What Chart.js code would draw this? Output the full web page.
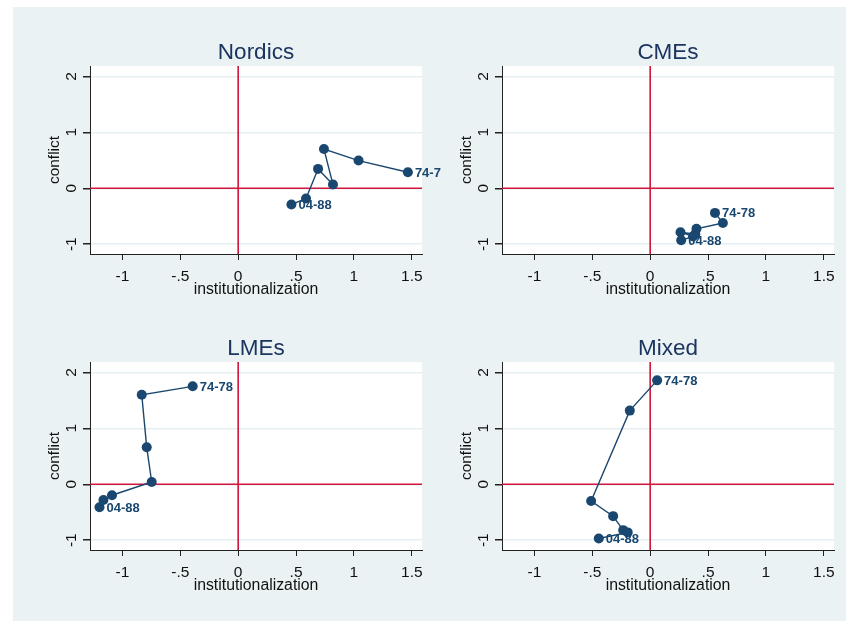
<!DOCTYPE html>
<html>
<head>
<meta charset="utf-8">
<title>Institutionalization and conflict by group</title>
<script src="https://cdn.jsdelivr.net/npm/chart.js@4.4.1/dist/chart.umd.min.js"></script>
<style>
  html, body { margin: 0; padding: 0; background: #ffffff; }
  #bg { position: absolute; left: 13px; top: 7px; width: 833px; height: 614px; background: #eaf2f3; }
  canvas { position: absolute; }
</style>
</head>
<body>
<div id="bg"></div>
<canvas id="c0" width="430" height="294" style="left:20px;top:20px"></canvas>
<canvas id="c1" width="414" height="294" style="left:432px;top:20px"></canvas>
<canvas id="c2" width="430" height="294" style="left:20px;top:316px"></canvas>
<canvas id="c3" width="414" height="294" style="left:432px;top:316px"></canvas>
<script>
// Panel titles
const groups = ['Nordics', 'CMEs', 'LMEs', 'Mixed'];

// Period trajectories, first period to last
const nordicsInst = [1.466, 1.04, 0.741, 0.819, 0.69, 0.586, 0.46];
const nordicsConf = [0.286, 0.495, 0.70, 0.066, 0.346, -0.184, -0.29];

const cmesInst = [0.56, 0.628, 0.40, 0.39, 0.262, 0.37, 0.268];
const cmesConf = [-0.44, -0.62, -0.725, -0.82, -0.785, -0.86, -0.93];

const lmesInst = [-0.393, -0.833, -0.79, -0.747, -1.09, -1.164, -1.198];
const lmesConf = [1.75, 1.60, 0.66, 0.04, -0.196, -0.28, -0.41];

const mixedInst = [0.06, -0.176, -0.51, -0.32, -0.233, -0.194, -0.444];
const mixedConf = [1.857, 1.316, -0.30, -0.57, -0.82, -0.86, -0.97];

// Labels placed at the first and last period of each trajectory
const pointLabels = ['74-78', '', '', '', '', '', '04-88'];

// Axis ticks
const xTicks = [-1, -0.5, 0, 0.5, 1, 1.5];
const xTickLabels = ['-1', '-.5', '0', '.5', '1', '1.5'];
const yTicks = [-1, 0, 1, 2];
const yTickLabels = ['-1', '0', '1', '2'];

const xRange = [-1.28, 1.588];
const yRange = [-1.175, 2.185];

const series = [
  [nordicsInst, nordicsConf],
  [cmesInst, cmesConf],
  [lmesInst, lmesConf],
  [mixedInst, mixedConf]
];

const FONT = '"Liberation Sans", Arial, Helvetica, sans-serif';
const NAVY = '#1a476f';
const TITLE_NAVY = '#1c3560';
const RED = '#d3143c';
const TEXT = '#111111';

// white plot region
const plotBg = {
  id: 'plotBg',
  beforeDraw(chart) {
    const a = chart.chartArea, ctx = chart.ctx;
    ctx.save();
    ctx.fillStyle = '#ffffff';
    ctx.fillRect(a.left, a.top, a.right - a.left, a.bottom - a.top);
    ctx.restore();
  }
};

// reference lines at x = 0 and y = 0
const zeroLines = {
  id: 'zeroLines',
  beforeDatasetsDraw(chart) {
    const a = chart.chartArea, ctx = chart.ctx;
    const x0 = chart.scales.x.getPixelForValue(0);
    const y0 = chart.scales.y.getPixelForValue(0);
    ctx.save();
    ctx.strokeStyle = RED;
    ctx.lineWidth = 1.6;
    ctx.beginPath();
    ctx.moveTo(x0, a.top); ctx.lineTo(x0, a.bottom);
    ctx.moveTo(a.left, y0); ctx.lineTo(a.right, y0);
    ctx.stroke();
    ctx.restore();
  }
};

// vertical-reading y tick labels
const yTickText = {
  id: 'yTickText',
  afterDraw(chart) {
    const s = chart.scales.y, ctx = chart.ctx;
    ctx.save();
    ctx.font = '15.5px ' + FONT;
    ctx.fillStyle = TEXT;
    ctx.textAlign = 'center';
    ctx.textBaseline = 'middle';
    yTicks.forEach((v, i) => {
      ctx.save();
      ctx.translate(s.right - 18, s.getPixelForValue(v));
      ctx.rotate(-Math.PI / 2);
      ctx.fillText(yTickLabels[i], 0, 0);
      ctx.restore();
    });
    ctx.restore();
  }
};

// period labels next to the end points; they may run a little past the plot edge
const periodText = {
  id: 'periodText',
  afterDatasetsDraw(chart) {
    const a = chart.chartArea, ctx = chart.ctx;
    const meta = chart.getDatasetMeta(0);
    ctx.save();
    ctx.beginPath();
    ctx.rect(a.left, a.top, a.right - a.left + 19, a.bottom - a.top);
    ctx.clip();
    ctx.font = 'bold 13px ' + FONT;
    ctx.fillStyle = NAVY;
    ctx.textAlign = 'left';
    ctx.textBaseline = 'middle';
    meta.data.forEach((pt, i) => {
      if (pointLabels[i]) ctx.fillText(pointLabels[i], pt.x + 7, pt.y + 1);
    });
    ctx.restore();
  }
};

function makePanel(idx) {
  const [xs, ys] = series[idx];
  const pts = xs.map((x, i) => ({ x: x, y: ys[i] }));
  const canvas = document.getElementById('c' + idx);
  new Chart(canvas, {
    type: 'scatter',
    data: {
      datasets: [{
        data: pts,
        showLine: true,
        borderColor: NAVY,
        borderWidth: 1.4,
        backgroundColor: NAVY,
        pointBackgroundColor: NAVY,
        pointBorderWidth: 0,
        pointRadius: 5,
        pointHoverRadius: 5
      }]
    },
    options: {
      responsive: false,
      animation: false,
      devicePixelRatio: 1,
      layout: { padding: { left: 0, right: canvas.width - 402, top: 0, bottom: 0 } },
      plugins: {
        legend: { display: false },
        tooltip: { enabled: false },
        title: {
          display: true,
          text: groups[idx],
          color: TITLE_NAVY,
          fullSize: false,
          font: { family: FONT, size: 22.5, weight: 'normal' },
          padding: { top: 19, bottom: 0 }
        }
      },
      scales: {
        x: {
          type: 'linear',
          min: xRange[0],
          max: xRange[1],
          afterBuildTicks(s) { s.ticks = xTicks.map(v => ({ value: v })); },
          afterFit(s) { s.height = 60; },
          ticks: {
            color: TEXT,
            font: { family: FONT, size: 15.5 },
            padding: 7.5,
            maxRotation: 0,
            autoSkip: false,
            callback: (v) => xTickLabels[xTicks.indexOf(v)]
          },
          grid: {
            drawOnChartArea: false,
            drawTicks: true,
            tickLength: 6,
            color: '#222222',
            tickColor: '#222222',
            lineWidth: 1
          },
          border: { display: true, color: '#222222', width: 1 },
          title: {
            display: true,
            text: 'institutionalization',
            color: TEXT,
            font: { family: FONT, size: 15.8 },
            padding: { top: 0, bottom: 14.5 }
          }
        },
        y: {
          type: 'linear',
          min: yRange[0],
          max: yRange[1],
          afterBuildTicks(s) { s.ticks = yTicks.map(v => ({ value: v })); },
          afterFit(s) { s.width = 70; },
          ticks: { display: false },
          grid: {
            drawOnChartArea: true,
            drawTicks: true,
            tickLength: 7,
            color: '#e6eef1',
            tickColor: '#222222',
            lineWidth: 1.5
          },
          border: { display: true, color: '#222222', width: 1 },
          title: {
            display: true,
            text: 'conflict',
            color: TEXT,
            font: { family: FONT, size: 15.5 },
            padding: { top: 25.7, bottom: 0 }
          }
        }
      }
    },
    plugins: [plotBg, zeroLines, yTickText, periodText]
  });
}

[0, 1, 2, 3].forEach(makePanel);
</script>
</body>
</html>
